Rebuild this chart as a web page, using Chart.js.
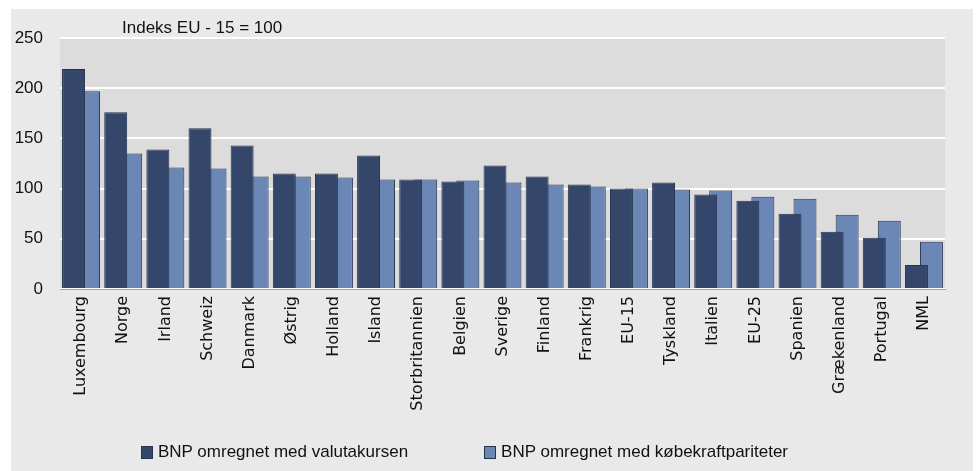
<!DOCTYPE html>
<html>
<head>
<meta charset="utf-8">
<script src="https://cdn.jsdelivr.net/npm/chart.js@4"></script>
<style>
  html, body { margin: 0; padding: 0; background: #fff; }
  #wrap { width: 976px; height: 471px; position: relative; }
  .legende {
    position: absolute; left: 141px; top: 442px;
    display: flex; gap: 76px;
    font: 17px 'Liberation Sans', Arial, sans-serif; color: #111;
  }
  .legende__item { display: flex; align-items: center; white-space: nowrap; }
  .legende__box {
    width: 12px; height: 13px; box-sizing: border-box;
    border: 1px solid #25334f; margin-right: 5px;
  }
</style>
</head>
<body>
<div id="wrap">
  <canvas id="bnpChart"></canvas>
  <div class="legende" id="legende"></div>
</div>
<script>
// BNP pr. indbygger, indeks EU-15 = 100

const lande = [
  'Luxembourg', 'Norge', 'Irland', 'Schweiz', 'Danmark', 'Østrig', 'Holland',
  'Island', 'Storbritannien', 'Belgien', 'Sverige', 'Finland', 'Frankrig',
  'EU-15', 'Tyskland', 'Italien', 'EU-25', 'Spanien', 'Grækenland',
  'Portugal', 'NML'
];

const valutakurs = [219, 176, 139, 160, 143, 115, 115, 133, 109, 107, 123, 112, 104, 100, 106, 94, 88, 75, 57, 51, 24];
const koebekraft = [197, 135, 121, 120, 112, 112, 111, 109, 109, 108, 106, 104, 102, 100, 99, 98, 92, 90, 74, 68, 47];

const yTicks = [0, 50, 100, 150, 200, 250];
const titelTekst = 'Indeks EU - 15 = 100';

const fontFam = "'Liberation Sans', Arial, sans-serif";

// baggrund + ramme + plotområde
const baggrund = {
  id: 'baggrund',
  beforeDraw(chart) {
    const c = chart.ctx;
    const a = chart.chartArea;
    c.save();
    c.fillStyle = '#ffffff';
    c.fillRect(0, 0, chart.width, chart.height);
    c.fillStyle = '#e9e9e9';
    c.fillRect(11, 9, 962, chart.height - 9);
    c.fillStyle = '#dcdcdc';
    c.fillRect(a.left, a.top, a.right - a.left, a.bottom - a.top);
    c.restore();
  }
};

// overskrift over plotområdet
const titel = {
  id: 'titel',
  afterDraw(chart) {
    const c = chart.ctx;
    c.save();
    c.font = '17px ' + fontFam;
    c.fillStyle = '#111';
    c.textBaseline = 'middle';
    c.textAlign = 'left';
    c.fillText(titelTekst, chart.chartArea.left + 62, 28);
    c.restore();
  }
};

const ctx = document.getElementById('bnpChart');

const chart = new Chart(ctx, {
  type: 'bar',
  data: {
    labels: lande,
    datasets: [{
      label: 'BNP omregnet med valutakursen',
      data: valutakurs,
      backgroundColor: '#34466a',
      borderColor: '#25334f',
      borderWidth: 1
    }, {
      label: 'BNP omregnet med købekraftpariteter',
      data: koebekraft,
      backgroundColor: '#6b87b5',
      borderColor: '#25334f',
      borderWidth: 1
    }]
  },
  options: {
    responsive: true,
    maintainAspectRatio: false,
    animation: false,
    categoryPercentage: 0.712,
    barPercentage: 1.53,
    layout: {
      padding: { left: 0, right: 31, top: 38, bottom: 57 }
    },
    plugins: {
      tooltip: { enabled: false },
      legend: { display: false }
    },
    scales: {
      x: {
        grid: { display: false, drawTicks: false },
        border: { color: '#a3a3a3', width: 1 },
        ticks: {
          minRotation: 90,
          maxRotation: 90,
          autoSkip: false,
          padding: 7,
          color: '#111',
          font: { family: "'DejaVu Sans', sans-serif", size: 16 }
        },
        afterFit(scale) { scale.height = 125; }
      },
      y: {
        min: 0,
        max: 250,
        afterBuildTicks(scale) { scale.ticks = yTicks.map(v => ({ value: v })); },
        grid: { color: '#ffffff', lineWidth: 2, drawTicks: false },
        border: { display: false },
        ticks: {
          padding: 17,
          color: '#111',
          font: { family: fontFam, size: 17 }
        },
        afterFit(scale) { scale.width = 60; }
      }
    }
  },
  plugins: [baggrund, titel]
});

// Legende under grafen
const legende = document.getElementById('legende');
chart.data.datasets.forEach(ds => {
  const item = document.createElement('div');
  item.className = 'legende__item';
  const box = document.createElement('span');
  box.className = 'legende__box';
  box.style.background = ds.backgroundColor;
  const txt = document.createElement('span');
  txt.textContent = ds.label;
  item.appendChild(box);
  item.appendChild(txt);
  legende.appendChild(item);
});
</script>
</body>
</html>
